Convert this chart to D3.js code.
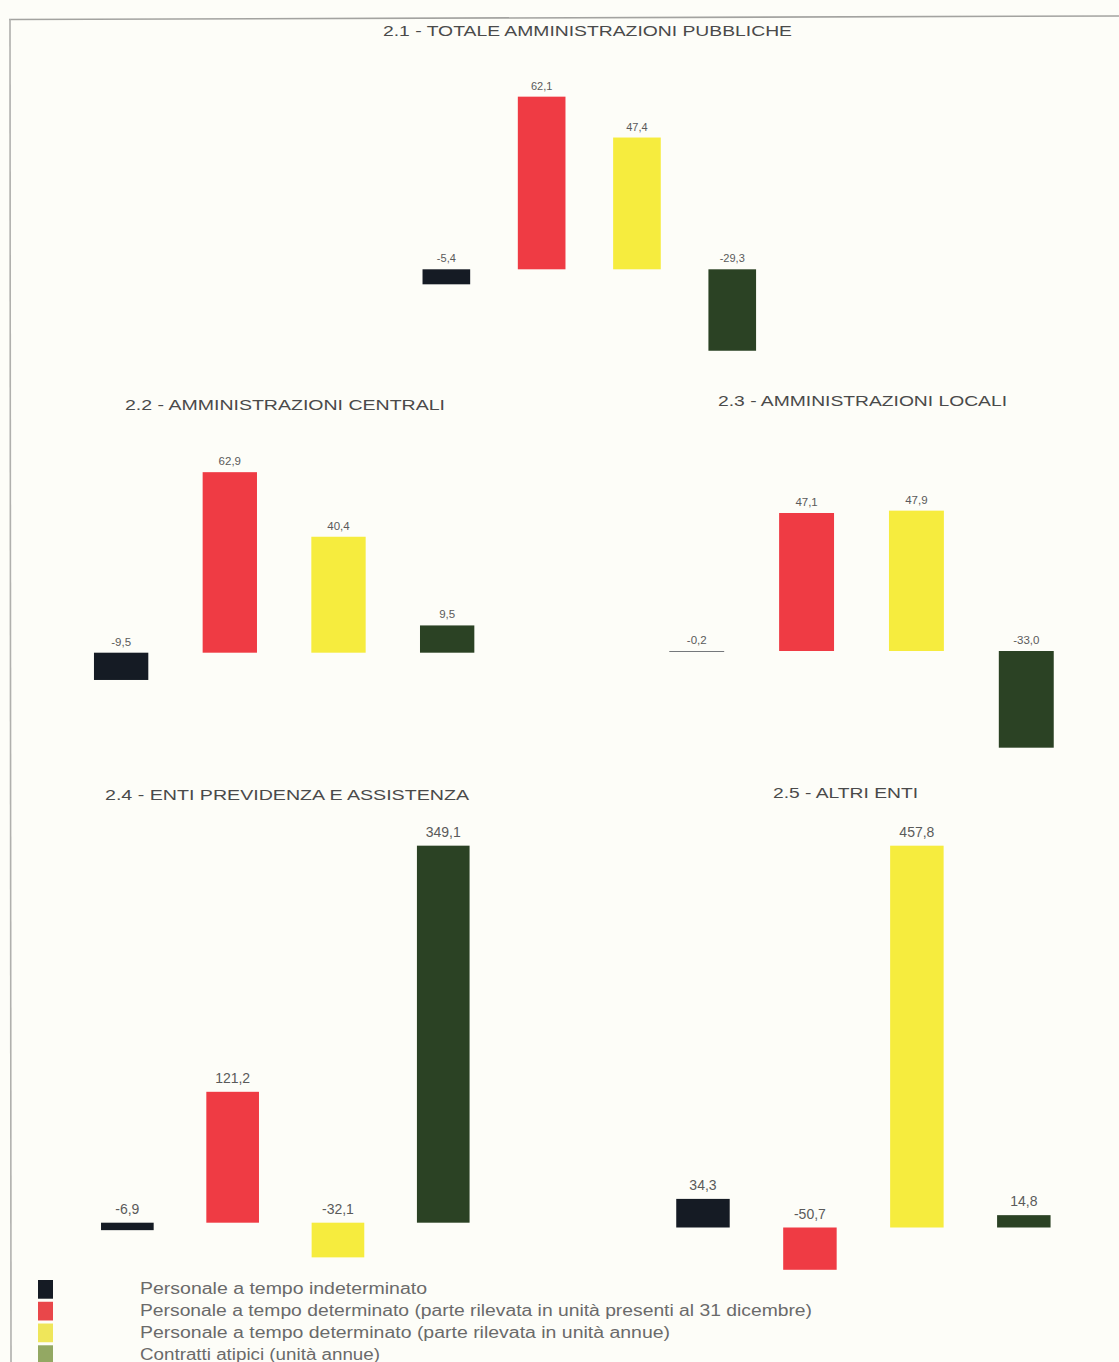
<!DOCTYPE html>
<html lang="it">
<head>
<meta charset="utf-8">
<title>Variazioni percentuali del personale per comparto</title>
<script src="https://cdn.jsdelivr.net/npm/d3@7"></script>
<style>
  html, body { margin: 0; padding: 0; background: #fdfdf8; }
  svg { display: block; }
  .title { font-family: "Liberation Sans", Arial, sans-serif; fill: #4a4a4a; }
  .value { font-family: "Liberation Sans", Arial, sans-serif; fill: #5a5a5a; }
  .legend { font-family: "Liberation Sans", Arial, sans-serif; fill: #6a6a6a; }
</style>
</head>
<body>
<div id="chart"></div>
<script>
// Series (one bar per series in every panel)
const seriesNames = [
  "Personale a tempo indeterminato",
  "Personale a tempo determinato (parte rilevata in unità presenti al 31 dicembre)",
  "Personale a tempo determinato (parte rilevata in unità annue)",
  "Contratti atipici (unità annue)"
];
const seriesColors = ["#151b24", "#ef3b44", "#f6ec3e", "#2b4224"];
const legendColors = ["#151b24", "#e9474a", "#efe65a", "#93a863"];

// Panel titles
const panelTitles = [
  "2.1 - TOTALE AMMINISTRAZIONI PUBBLICHE",
  "2.2 - AMMINISTRAZIONI CENTRALI",
  "2.3 - AMMINISTRAZIONI LOCALI",
  "2.4 - ENTI PREVIDENZA E ASSISTENZA",
  "2.5 - ALTRI ENTI"
];

// Percentage changes, one array per panel, in series order
const totaleAP       = [-5.4, 62.1, 47.4, -29.3];
const ammCentrali    = [-9.5, 62.9, 40.4, 9.5];
const ammLocali      = [-0.2, 47.1, 47.9, -33.0];
const entiPrevidenza = [-6.9, 121.2, -32.1, 349.1];
const altriEnti      = [34.3, -50.7, 457.8, 14.8];

const panelValues = [totaleAP, ammCentrali, ammLocali, entiPrevidenza, altriEnti];

// Layout of each panel: horizontal band range, zero line, vertical scale,
// title placement and label size
const layout = [
  { x: [398.7, 779.9], zeroY: 269.3, pxPerUnit: 2.78, title: { cx: 587.5, y: 36, w: 409 }, fs: 11, off: 7 },
  { x: [66.8, 501.5],  zeroY: 652.7, pxPerUnit: 2.87, title: { cx: 285, y: 410, w: 320 }, fs: 11.5, off: 7 },
  { x: [641.8, 1081.2], zeroY: 651.0, pxPerUnit: 2.93, title: { cx: 862.5, y: 406, w: 289 }, fs: 11.5, off: 7 },
  { x: [74.7, 495.9],  zeroY: 1222.7, pxPerUnit: 1.08, title: { cx: 287, y: 800, w: 364 }, fs: 14, off: 9 },
  { x: [649.5, 1077.3], zeroY: 1227.5, pxPerUnit: 0.834, title: { cx: 845.5, y: 798, w: 145 }, fs: 14, off: 9 }
];

// Legend text run lengths
const legendWidths = [287, 672, 530, 240];

const W = 1119, H = 1362;

const it = d3.formatLocale({ decimal: ",", thousands: ".", grouping: [3], currency: ["€", ""], minus: "-" });
const fmt = it.format(".1f");

const svg = d3.select("#chart").append("svg")
  .attr("width", W).attr("height", H)
  .attr("viewBox", [0, 0, W, H]);

svg.append("rect").attr("width", W).attr("height", H).attr("fill", "#fdfdf8");

// Page frame (top and left rules)
svg.append("line")
  .attr("x1", 9).attr("y1", 19.5).attr("x2", W).attr("y2", 16)
  .attr("stroke", "#a3a3a0").attr("stroke-width", 1.6);
svg.append("line")
  .attr("x1", 10).attr("y1", 19).attr("x2", 11).attr("y2", H)
  .attr("stroke", "#b0b0ad").attr("stroke-width", 1.6);

panelValues.forEach((values, p) => {
  const L = layout[p];
  const g = svg.append("g").attr("class", "panel");

  const x = d3.scaleBand()
    .domain(d3.range(seriesNames.length))
    .range(L.x)
    .paddingInner(0.5)
    .paddingOuter(0.25);

  const y = d3.scaleLinear()
    .domain([0, 1])
    .range([L.zeroY, L.zeroY - L.pxPerUnit]);

  g.append("text")
    .attr("class", "title")
    .attr("x", L.title.cx)
    .attr("y", L.title.y)
    .attr("text-anchor", "middle")
    .attr("font-size", 15.5)
    .attr("textLength", L.title.w)
    .attr("lengthAdjust", "spacingAndGlyphs")
    .text(panelTitles[p]);

  const data = values.map((v, i) => ({ i, v }));

  g.selectAll("rect.bar")
    .data(data)
    .join("rect")
    .attr("class", "bar")
    .attr("x", d => x(d.i))
    .attr("width", x.bandwidth())
    .attr("y", d => Math.min(y(d.v), y(0)))
    .attr("height", d => Math.abs(y(d.v) - y(0)))
    .attr("fill", d => seriesColors[d.i]);

  g.selectAll("text.value")
    .data(data)
    .join("text")
    .attr("class", "value")
    .attr("x", d => x(d.i) + x.bandwidth() / 2)
    .attr("y", d => Math.min(y(d.v), y(0)) - L.off)
    .attr("text-anchor", "middle")
    .attr("font-size", L.fs)
    .text(d => fmt(d.v));
});

// Legend
const legend = svg.append("g").attr("class", "legend-group");
const legY = d3.scaleBand().domain(d3.range(seriesNames.length)).range([1280, 1364]).paddingInner(0.14);

legend.selectAll("rect")
  .data(seriesNames)
  .join("rect")
  .attr("x", 38)
  .attr("y", (d, i) => legY(i))
  .attr("width", 15)
  .attr("height", legY.bandwidth())
  .attr("fill", (d, i) => legendColors[i]);

legend.selectAll("text")
  .data(seriesNames)
  .join("text")
  .attr("class", "legend")
  .attr("x", 140)
  .attr("y", (d, i) => legY(i) + legY.bandwidth() / 2 + 5)
  .attr("font-size", 16)
  .attr("textLength", (d, i) => legendWidths[i])
  .attr("lengthAdjust", "spacingAndGlyphs")
  .text(d => d);
</script>
</body>
</html>
